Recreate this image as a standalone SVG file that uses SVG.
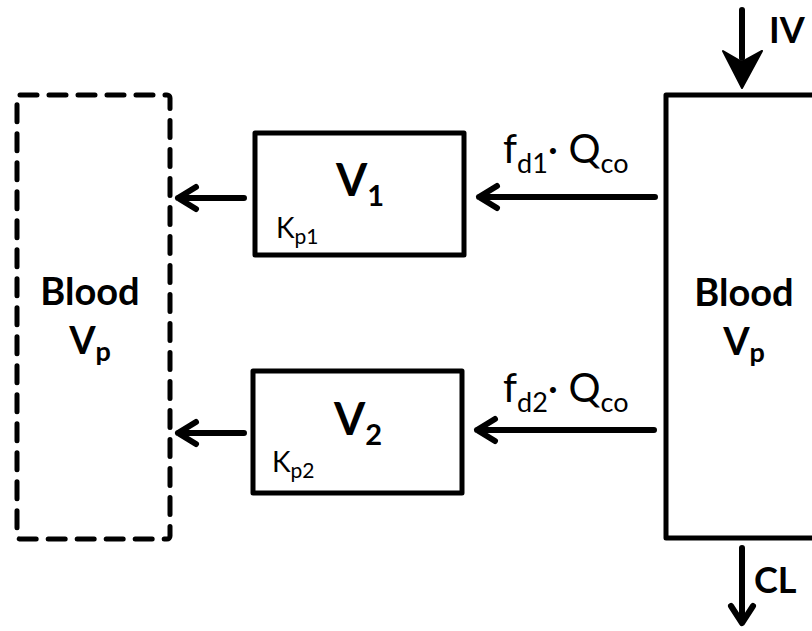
<svg xmlns="http://www.w3.org/2000/svg" width="812" height="631" viewBox="0 0 812 631">
<style>
.box{fill:#fff;stroke:#000;stroke-width:5;stroke-linejoin:round}
.dash{fill:none;stroke:#000;stroke-width:5;stroke-dasharray:17 12;stroke-linecap:round;stroke-linejoin:round}
.ln{fill:none;stroke:#000;stroke-width:6;stroke-linecap:round;stroke-linejoin:round}
.t{font-family:Lato,"Open Sans","Liberation Sans",sans-serif;fill:#000}
.b{font-weight:bold}
</style>
<rect width="812" height="631" fill="#fff"/>
<g id="blood-left">
<rect class="dash" x="17" y="95" width="153" height="444" rx="3"/>
<text class="t b" x="90" y="305" font-size="38" text-anchor="middle">Blood</text>
<text class="t b" x="90" y="354" font-size="38" text-anchor="middle">V<tspan font-size="27" dy="7">p</tspan></text>
</g>
<g id="v1">
<rect class="box" x="255" y="133" width="209" height="122"/>
<text class="t b" x="336" y="196" font-size="45">V<tspan font-size="29" dy="10">1</tspan></text>
<text class="t" x="276" y="238" font-size="28">K<tspan font-size="21" dy="6">p1</tspan></text>
</g>
<g id="v2">
<rect class="box" x="253" y="371" width="209" height="122"/>
<text class="t b" x="334" y="435" font-size="45">V<tspan font-size="29" dy="10">2</tspan></text>
<text class="t" x="272" y="472" font-size="28">K<tspan font-size="21" dy="6">p2</tspan></text>
</g>
<g id="blood-right">
<rect class="box" x="666" y="95" width="160" height="443"/>
<text class="t b" x="744" y="306" font-size="38" text-anchor="middle">Blood</text>
<text class="t b" x="744" y="355" font-size="38" text-anchor="middle">V<tspan font-size="27" dy="7">p</tspan></text>
</g>
<g id="connectors">
<path class="ln" d="M655 197H479M497 186L479 197L497 208"/>
<path class="ln" d="M244 198H178M196 187L178 198L196 209"/>
<path class="ln" d="M654 430H477M495 419L477 430L495 441"/>
<path class="ln" d="M244 433H178M196 422L178 433L196 444"/>
<path class="ln" d="M742 10V58"/>
<path d="M723 51L742 88L762 51L742 62Z" fill="#000" stroke="#000" stroke-width="2" stroke-linejoin="round"/>
<path class="ln" d="M742 548V622M731 606L742 623L753 606"/>
<text class="t" x="503" y="163" font-size="40">f<tspan font-size="27" dy="10">d1</tspan><tspan dy="-10">· Q</tspan><tspan font-size="27" dy="10">co</tspan></text>
<text class="t" x="503" y="402" font-size="40">f<tspan font-size="27" dy="10">d2</tspan><tspan dy="-10">· Q</tspan><tspan font-size="27" dy="10">co</tspan></text>
<text class="t b" x="769" y="43" font-size="36">IV</text>
<text class="t b" x="754" y="593" font-size="36">CL</text>
</g>
</svg>
